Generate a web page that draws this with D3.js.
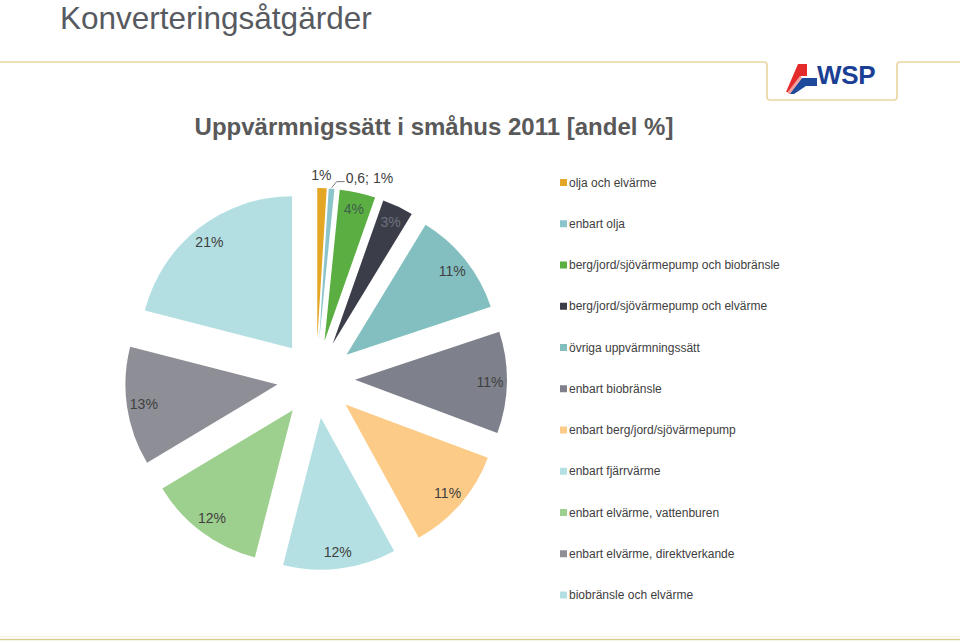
<!DOCTYPE html>
<html>
<head>
<meta charset="utf-8">
<script src="https://cdn.jsdelivr.net/npm/d3@7"></script>
<style>
  html, body { margin: 0; padding: 0; background: #ffffff; }
  svg { display: block; font-family: "Liberation Sans", Arial, sans-serif; }
</style>
</head>
<body>
<svg id="chart" width="960" height="643"></svg>
<script>
const pageTitle = "Konverteringsåtgärder";
const chartTitle = "Uppvärmnigssätt i småhus 2011 [andel %]";
const categories = [
  "olja och elvärme",
  "enbart olja",
  "berg/jord/sjövärmepump och biobränsle",
  "berg/jord/sjövärmepump och elvärme",
  "övriga uppvärmningssätt",
  "enbart biobränsle",
  "enbart berg/jord/sjövärmepump",
  "enbart fjärrvärme",
  "enbart elvärme, vattenburen",
  "enbart elvärme, direktverkande",
  "biobränsle och elvärme"
];
const values = [1.0, 0.6, 3.8, 3.3, 11.2, 10.8, 11.3, 12.0, 12.4, 12.6, 21.0];
const valueLabels = ["1%", "0,6; 1%", "4%", "3%", "11%", "11%", "11%", "12%", "12%", "13%", "21%"];
const colors = ["#E4A625", "#8CC4CC", "#5BAE42", "#3B3E49", "#83BFC0", "#7E818B",
                "#FCCB87", "#B4E0E3", "#9DCF8E", "#8E8F96", "#B3DFE2"];
const labelColors = ["#404040", "#404040", "#3E5E4A", "#6E717B", "#404040", "#404040",
                     "#404040", "#404040", "#404040", "#404040", "#404040"];

const svg = d3.select("#chart");

// Header
svg.append("text").attr("x", 60).attr("y", 29)
  .attr("font-size", 31.5).attr("fill", "#575A61").text(pageTitle);

svg.append("path")
  .attr("d", "M0,62 H764 Q767,62 767,65 V97 Q767,100 770,100 H894 Q897,100 897,97 V65 Q897,62 900,62 H960")
  .attr("fill", "none").attr("stroke", "#EAD59E").attr("stroke-width", 1.6);

// Logo
const logo = svg.append("g");
logo.append("path").attr("d", "M798,64 L807,64 L807,76 L801,76 L789,92 L786,92 Z").attr("fill", "#E32B2B");
logo.append("path").attr("d", "M802,78 L817,78 L817,86 L806,86 L794,94 L789,94 Z").attr("fill", "#1E4A9B");
logo.append("path").attr("d", "M800,76 L802,78 L790,94 L787,93 Z").attr("fill", "#F3A0A0");
logo.append("text").attr("x", 817).attr("y", 84)
  .attr("font-size", 26).attr("font-weight", "bold").attr("fill", "#1B3F94")
  .attr("letter-spacing", -0.3).text("WSP");

// Bottom line
svg.append("line").attr("x1", 0).attr("x2", 960).attr("y1", 639.5).attr("y2", 639.5)
  .attr("stroke", "#D8CD8F").attr("stroke-width", 1.5);
svg.append("line").attr("x1", 0).attr("x2", 960).attr("y1", 636.5).attr("y2", 636.5)
  .attr("stroke", "#F4F1DC").attr("stroke-width", 1);

// Chart title
svg.append("text").attr("x", 434).attr("y", 135).attr("text-anchor", "middle")
  .attr("font-size", 24).attr("font-weight", "bold").attr("fill", "#595959")
  .text(chartTitle);

// Pie
const cx = 316, cy = 379, R = 152, explode = 39, labelR = 135;
const data = categories.map((c, i) => ({ name: c, value: values[i], label: valueLabels[i], color: colors[i], lc: labelColors[i] }));
const pie = d3.pie().sort(null).value(d => d.value).startAngle(0).endAngle(2 * Math.PI);
const arcs = pie(data);
const arc = d3.arc().innerRadius(0).outerRadius(R);

const pg = svg.append("g").attr("transform", `translate(${cx},${cy})`);
const slices = pg.selectAll("g.slice").data(arcs).join("g")
  .attr("class", "slice")
  .attr("transform", d => {
    const m = (d.startAngle + d.endAngle) / 2;
    return `translate(${explode * Math.sin(m)},${-explode * Math.cos(m)})`;
  });
slices.append("path").attr("d", arc).attr("fill", d => d.data.color);

slices.each(function(d, i) {
  const g = d3.select(this);
  const m = (d.startAngle + d.endAngle) / 2;
  const sx = Math.sin(m), sy = -Math.cos(m);
  if (i === 0) {
    g.append("text").attr("x", 165 * sx - 1).attr("y", 165 * sy)
      .attr("text-anchor", "middle").attr("dominant-baseline", "central")
      .attr("font-size", 14).attr("fill", d.data.lc).text(d.data.label);
  } else if (i === 1) {
    const x0 = (R + 1) * sx, y0 = (R + 1) * sy;
    const x1 = x0 + 5, y1 = y0 - 6, x2 = x1 + 8;
    g.append("path").attr("d", `M${x0},${y0} L${x1},${y1} L${x2},${y1}`)
      .attr("fill", "none").attr("stroke", "#555").attr("stroke-width", 0.8);
    g.append("text").attr("x", x2 + 1).attr("y", y1 - 4)
      .attr("dominant-baseline", "central")
      .attr("font-size", 14).attr("fill", d.data.lc).text(d.data.label);
  } else {
    g.append("text").attr("x", labelR * sx).attr("y", labelR * sy)
      .attr("text-anchor", "middle").attr("dominant-baseline", "central")
      .attr("font-size", 14).attr("fill", d.data.lc).text(d.data.label);
  }
});

// Legend
const ly = d3.scaleLinear().domain([0, categories.length - 1]).range([182.5, 595]);
const leg = svg.append("g").selectAll("g").data(data).join("g")
  .attr("transform", (d, i) => `translate(560,${ly(i)})`);
leg.append("rect").attr("x", 0).attr("y", -3.5).attr("width", 7).attr("height", 7)
  .attr("fill", d => d.color);
leg.append("text").attr("x", 9).attr("y", 0).attr("dominant-baseline", "central")
  .attr("font-size", 12).attr("fill", "#404040").text(d => d.name);
</script>
</body>
</html>
